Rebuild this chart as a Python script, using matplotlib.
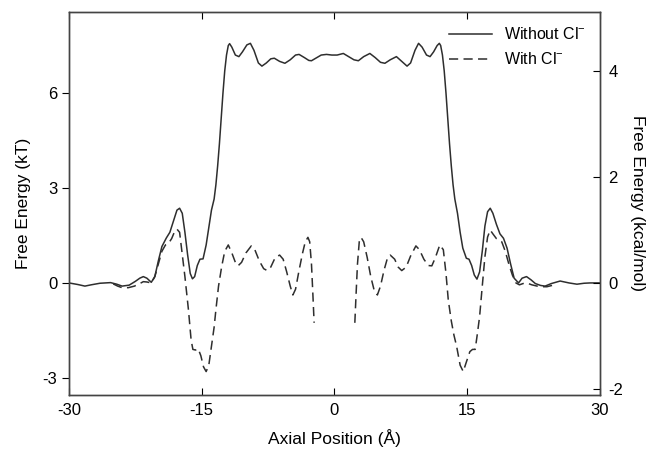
import matplotlib.pyplot as plt

plt.rcParams['font.family'] = ['Liberation Sans', 'DejaVu Sans']
plt.rcParams['mathtext.default'] = 'regular'
plt.rcParams['axes.unicode_minus'] = False

# free energy profiles in kT
x_without = [-30, -29, -28.2, -27.5, -26.5, -25.3, -24.6, -24.0, -23.2, -22.5,
             -22.0, -21.6, -21.2, -20.7, -20.3, -19.9, -19.5, -19.0, -18.6, -18.2,
             -17.8, -17.5, -17.2, -16.9, -16.6, -16.3, -16.05, -15.8, -15.5, -15.2,
             -14.85, -14.5, -14.2, -13.9, -13.6, -13.4, -13.2, -13.0, -12.8, -12.6,
             -12.4, -12.2, -12.0, -11.85, -11.6, -11.2, -10.8, -10.4, -9.9, -9.5,
             -9.1, -8.6, -8.2, -7.7, -7.2, -6.8, -6.2, -5.6, -5.0, -4.4,
             -4.0, -3.4, -2.9, -2.6, -2.1, -1.5, -0.9, -0.3, 0.3, 1.0,
             1.6, 2.2, 2.7, 3.3, 4.0, 4.6, 5.2, 5.7, 6.3, 7.0,
             7.6, 8.2, 8.6, 9.1, 9.5, 9.9, 10.4, 10.8, 11.2, 11.6,
             11.85, 12.0, 12.2, 12.4, 12.6, 12.8, 13.0, 13.2, 13.4, 13.6,
             13.9, 14.2, 14.5, 14.9, 15.2, 15.5, 15.8, 16.1, 16.4, 16.7,
             17.0, 17.3, 17.6, 17.9, 18.3, 18.7, 19.1, 19.5, 19.9, 20.3,
             20.8, 21.2, 21.7, 22.2, 22.7, 23.3, 23.8, 24.5, 25.5, 26.5,
             27.4, 28.2, 28.9, 30]
g_without = [0.0, -0.05, -0.1, -0.06, -0.01, 0.01, -0.04, -0.1, -0.07, 0.05,
             0.15, 0.2, 0.15, 0.02, 0.2, 0.7, 1.15, 1.42, 1.6, 1.95,
             2.3, 2.36, 2.2, 1.6, 0.9, 0.3, 0.13, 0.2, 0.55, 0.75,
             0.76, 1.2, 1.75, 2.3, 2.65, 3.1, 3.7, 4.4, 5.2, 6.0,
             6.7, 7.2, 7.5, 7.56, 7.45, 7.2, 7.15, 7.3, 7.52, 7.57,
             7.35, 6.95, 6.85, 6.95, 7.08, 7.1, 7.0, 6.94, 7.05, 7.2,
             7.22, 7.12, 7.03, 7.02, 7.1, 7.2, 7.22, 7.2, 7.2, 7.25,
             7.15, 7.05, 7.02, 7.15, 7.25, 7.12, 6.97, 6.94, 7.05, 7.15,
             7.0, 6.85, 6.95, 7.35, 7.57, 7.45, 7.2, 7.15, 7.3, 7.5,
             7.57, 7.5, 7.2, 6.7, 6.0, 5.2, 4.4, 3.7, 3.1, 2.65,
             2.2, 1.6, 1.1, 0.78, 0.75, 0.55, 0.25, 0.12, 0.35, 1.0,
             1.8, 2.25, 2.36, 2.2, 1.85, 1.55, 1.41, 1.1, 0.6, 0.15,
             0.0, 0.15, 0.2, 0.1, -0.02, -0.08, -0.1, -0.02, 0.06, 0.0,
             -0.04, -0.01, 0.0, 0.0]

x_with_l = [-25.0, -24.5, -24.0, -23.3, -22.6, -22.0, -21.6, -21.2, -20.7, -20.3,
            -19.9, -19.5, -19.1, -18.8, -18.4, -18.1, -17.8, -17.5, -17.2, -16.9,
            -16.5, -16.2, -16.0, -15.7, -15.4, -15.1, -14.8, -14.5, -14.2, -13.9,
            -13.6, -13.4, -13.1, -12.75, -12.4, -12.0, -11.6, -11.2, -10.9, -10.5,
            -10.0, -9.4, -9.0, -8.5, -8.0, -7.6, -7.2, -6.7, -6.2, -5.8,
            -5.4, -5.0, -4.7, -4.4, -4.0, -3.6, -3.3, -3.0, -2.8, -2.6,
            -2.45, -2.3]
g_with_l = [-0.03, -0.1, -0.15, -0.15, -0.1, -0.02, 0.04, 0.03, 0.0, 0.2,
            0.6, 1.0, 1.2, 1.23, 1.4, 1.6, 1.7, 1.6, 0.9, 0.2,
            -0.85, -1.8, -2.1, -2.12, -2.08, -2.3, -2.65, -2.8, -2.6, -2.0,
            -1.4, -0.85, -0.1, 0.51, 1.0, 1.2, 0.95, 0.65, 0.54, 0.65,
            0.95, 1.17, 1.05, 0.7, 0.45, 0.39, 0.5, 0.8, 0.88, 0.75,
            0.35, -0.1, -0.38, -0.2, 0.4, 0.95, 1.3, 1.44, 1.3, 0.6,
            -0.3, -1.26]

x_with_r = [2.3, 2.45, 2.6, 2.8, 3.0, 3.3, 3.7, 4.1, 4.5, 4.85,
            5.2, 5.6, 6.0, 6.3, 6.8, 7.2, 7.6, 8.1, 8.6, 9.2,
            9.6, 10.1, 10.6, 11.0, 11.4, 11.9, 12.3, 12.6, 12.86, 13.2,
            13.5, 13.8, 14.2, 14.55, 14.9, 15.3, 15.6, 15.9, 16.15, 16.4,
            16.7, 17.0, 17.3, 17.6, 17.9, 18.3, 18.9, 19.3, 19.7, 20.1,
            20.5, 20.9, 21.3, 21.7, 22.3, 23.2, 24.0, 25.0]
g_with_r = [-1.26, -0.3, 0.6, 1.3, 1.44, 1.3, 0.8, 0.2, -0.25, -0.38,
            -0.1, 0.4, 0.8, 0.88, 0.75, 0.5, 0.39, 0.5, 0.85, 1.17,
            1.05, 0.75, 0.55, 0.54, 0.8, 1.2, 1.05, 0.3, -0.54, -1.2,
            -1.65, -2.0, -2.6, -2.8, -2.5, -2.17, -2.1, -2.1, -1.6, -1.06,
            -0.1, 0.83, 1.45, 1.67, 1.55, 1.4, 1.3, 1.0, 0.6, 0.25,
            0.0, -0.06, -0.02, 0.0, -0.06, -0.12, -0.12, -0.05]

kT_to_kcal = 0.596
ylim_kT = (-3.54, 8.56)

fig = plt.figure(figsize=(6.62, 4.58), dpi=100)
ax = fig.add_axes([0.1042, 0.1376, 0.8021, 0.8362])

col = '#2e2e2e'
ax.plot(x_without, g_without, color=col, lw=1.1, label='Without Cl$^{-}$')
ax.plot(x_with_l, g_with_l, color=col, lw=1.1, dashes=(6, 3.5), label='With Cl$^{-}$')
ax.plot(x_with_r, g_with_r, color=col, lw=1.1, dashes=(6, 3.5))

ax.set_xlim(-30, 30)
ax.set_ylim(*ylim_kT)
ax.set_xticks([-30, -15, 0, 15, 30])
ax.set_yticks([-3, 0, 3, 6])
ax.tick_params(axis='x', direction='in', top=True, length=5, labelsize=12, pad=6)
ax.tick_params(axis='y', direction='out', length=5, labelsize=12)
ax.set_xlabel('Axial Position (Å)', fontsize=12.5, labelpad=8)
ax.set_ylabel('Free Energy (kT)', fontsize=12.5, labelpad=8)

ax2 = ax.twinx()
ax2.set_ylim(ylim_kT[0] * kT_to_kcal, ylim_kT[1] * kT_to_kcal)
ax2.set_yticks([-2, 0, 2, 4])
ax2.tick_params(axis='y', direction='in', length=5, labelsize=12, pad=6)
ax2.set_ylabel('Free Energy (kcal/mol)', fontsize=12.5, rotation=270, labelpad=16)

for a in (ax, ax2):
    for s in a.spines.values():
        s.set_color('#444444')
        s.set_linewidth(1.0)

ax.legend(loc='upper right', frameon=False, fontsize=11.5, handlelength=2.7,
          borderaxespad=0.5, labelspacing=0.55, handletextpad=0.7)

fig.savefig('out.png', dpi=100)
